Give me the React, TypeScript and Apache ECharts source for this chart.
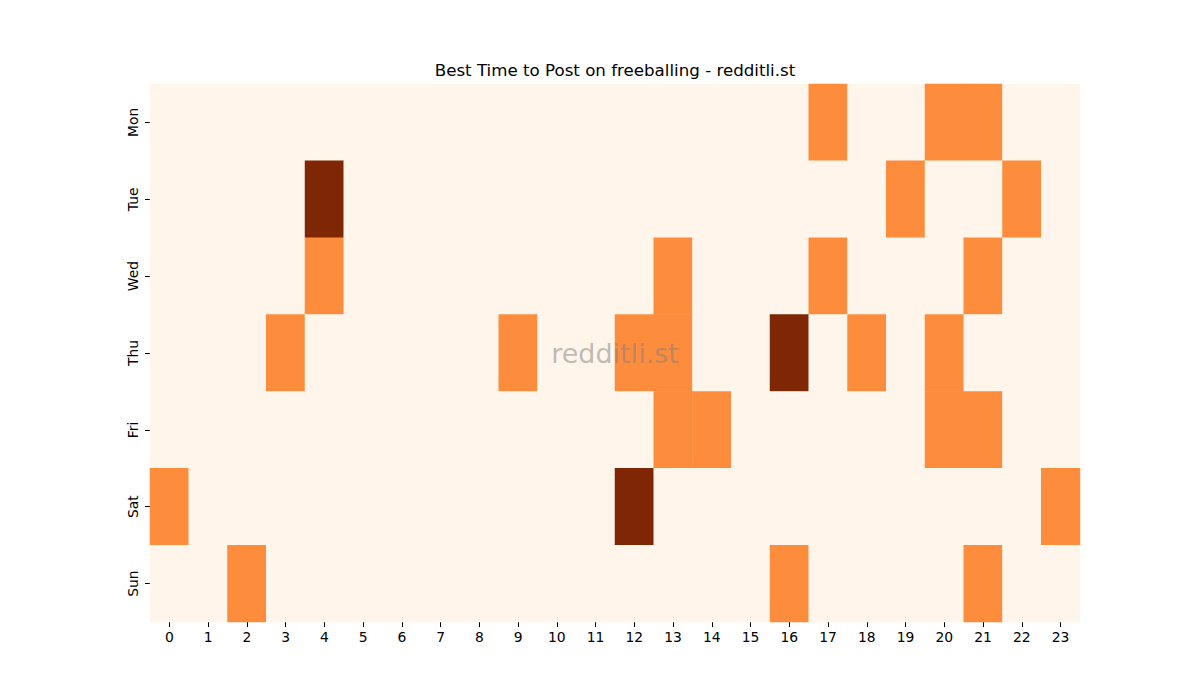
import { useEffect, useRef } from "react";
import * as echarts from "echarts";

const days = ["Mon", "Tue", "Wed", "Thu", "Fri", "Sat", "Sun"];
const hours = Array.from({ length: 24 }, (_, i) => String(i));

// 0 = low, 1 = medium, 2 = high
const mon = [0, 0, 0, 0, 0, 0, 0, 0, 0, 0, 0, 0, 0, 0, 0, 0, 0, 1, 0, 0, 1, 1, 0, 0];
const tue = [0, 0, 0, 0, 2, 0, 0, 0, 0, 0, 0, 0, 0, 0, 0, 0, 0, 0, 0, 1, 0, 0, 1, 0];
const wed = [0, 0, 0, 0, 1, 0, 0, 0, 0, 0, 0, 0, 0, 1, 0, 0, 0, 1, 0, 0, 0, 1, 0, 0];
const thu = [0, 0, 0, 1, 0, 0, 0, 0, 0, 1, 0, 0, 1, 1, 0, 0, 2, 0, 1, 0, 1, 0, 0, 0];
const fri = [0, 0, 0, 0, 0, 0, 0, 0, 0, 0, 0, 0, 0, 1, 1, 0, 0, 0, 0, 0, 1, 1, 0, 0];
const sat = [1, 0, 0, 0, 0, 0, 0, 0, 0, 0, 0, 0, 2, 0, 0, 0, 0, 0, 0, 0, 0, 0, 0, 1];
const sun = [0, 0, 1, 0, 0, 0, 0, 0, 0, 0, 0, 0, 0, 0, 0, 0, 1, 0, 0, 0, 0, 1, 0, 0];

const rows = [mon, tue, wed, thu, fri, sat, sun];

export default function App() {
  const chartRef = useRef<HTMLDivElement>(null);

  useEffect(() => {
    document.body.style.margin = "0";
    if (!chartRef.current) return;
    const chart = echarts.init(chartRef.current, undefined, { renderer: "svg" });

    const cells: number[][] = [];
    rows.forEach((row, d) => row.forEach((v, h) => cells.push([h, d, v])));

    const font = "DejaVu Sans";
    const tick = { show: true, alignWithLabel: true, length: 5, lineStyle: { color: "#000", width: 1 } };
    chart.setOption({
      animation: false,
      backgroundColor: "#ffffff",
      title: {
        text: "Best Time to Post on freeballing - redditli.st",
        left: 610,
        textAlign: "center",
        top: 56,
        textStyle: { fontFamily: font, fontSize: 16.67, fontWeight: "normal", color: "#000", lineHeight: 18 },
      },
      grid: { left: 150, right: 120, top: 84, bottom: 78 },
      xAxis: {
        type: "category",
        data: hours,
        axisLine: { show: false },
        axisTick: tick,
        axisLabel: { fontFamily: font, fontSize: 13.9, color: "#000", margin: 8 },
        splitLine: { show: false },
      },
      yAxis: {
        type: "category",
        data: days,
        inverse: true,
        axisLine: { show: false },
        axisTick: tick,
        axisLabel: { fontFamily: font, fontSize: 13.9, color: "#000", rotate: 90, margin: 10 },
        splitLine: { show: false },
      },
      visualMap: {
        type: "piecewise",
        show: false,
        dimension: 2,
        pieces: [
          { value: 0, color: "#fff5eb" },
          { value: 1, color: "#fd8d3c" },
          { value: 2, color: "#7f2704" },
        ],
      },
      series: [
        {
          type: "heatmap",
          data: cells,
          itemStyle: { borderWidth: 0 },
          emphasis: { disabled: true },
          z: 1,
        },
      ],
      graphic: [
        {
          type: "text",
          x: 615,
          y: 353,
          z: 100,
          style: {
            text: "redditli.st",
            fontFamily: font,
            fontSize: 27,
            fill: "rgba(128,128,128,0.5)",
            align: "center",
            verticalAlign: "middle",
          },
        },
      ],
    });

    const handleResize = () => chart.resize();
    window.addEventListener("resize", handleResize);
    return () => {
      window.removeEventListener("resize", handleResize);
      chart.dispose();
    };
  }, []);

  return <div ref={chartRef} style={{ width: "1200px", height: "700px" }} />;
}
